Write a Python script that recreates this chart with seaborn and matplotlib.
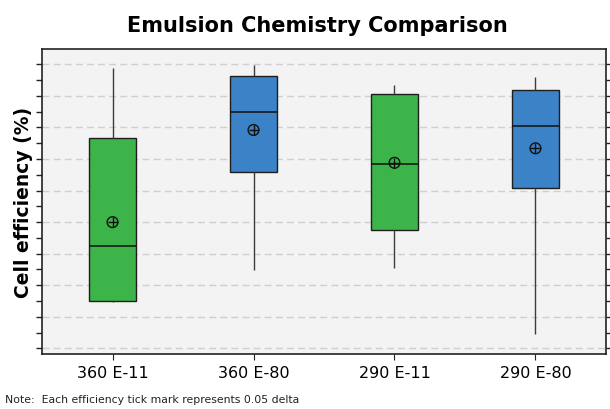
import matplotlib
matplotlib.use("Agg")
import matplotlib.pyplot as plt
from matplotlib.ticker import MultipleLocator, NullFormatter
import pandas as pd
import seaborn as sns

# Five-number summaries per emulsion chemistry (cell efficiency, %)
categories = ["360 E-11", "360 E-80", "290 E-11", "290 E-80"]
whisker_low = [21.146, 21.248, 21.254, 21.044]
q1 = [21.149, 21.560, 21.375, 21.507]
median = [21.323, 21.748, 21.585, 21.706]
q3 = [21.667, 21.862, 21.806, 21.820]
whisker_high = [21.887, 21.898, 21.835, 21.859]
means = [21.400, 21.692, 21.588, 21.634]
box_colors = ["#3cb449", "#3b82c6", "#3cb449", "#3b82c6"]

# Long-form table: with five values per group, the quartiles land exactly
# on the summary values and whis=(0, 100) puts the whiskers on the extremes.
rows = []
for i, cat in enumerate(categories):
    for v in (whisker_low[i], q1[i], median[i], q3[i], whisker_high[i]):
        rows.append({"chemistry": cat, "efficiency": v})
df = pd.DataFrame(rows)
mean_df = pd.DataFrame({"chemistry": categories, "efficiency": means})

sns.set_theme(style="white")
plt.rcParams["font.family"] = ["DejaVu Sans"]

fig = plt.figure(figsize=(6.1, 4.1), dpi=100)
ax = fig.add_axes([0.0689, 0.1341, 0.9245, 0.7439])
ax.set_facecolor("#f3f3f3")

sns.boxplot(
    data=df, x="chemistry", y="efficiency", hue="chemistry",
    palette=box_colors, legend=False, order=categories,
    whis=(0, 100), width=0.335, linewidth=1.0, linecolor="#1e1e1e",
    saturation=1, ax=ax,
    capprops={"linewidth": 0},
    whiskerprops={"color": "#3c3c3c", "linewidth": 1.0},
    medianprops={"color": "#111111", "linewidth": 1.1},
    zorder=3,
)

# Mean markers: circle with a cross
sns.scatterplot(data=mean_df, x="chemistry", y="efficiency", marker="o",
                s=60, facecolor="none", edgecolor="#111111", linewidth=1.0,
                ax=ax, zorder=5, legend=False)
sns.scatterplot(data=mean_df, x="chemistry", y="efficiency", marker="+",
                s=60, color="#111111", linewidth=1.0,
                ax=ax, zorder=5, legend=False)

ax.set_xlim(-0.5, 3.5)
ax.set_ylim(20.982, 21.9487)
ax.yaxis.set_major_locator(MultipleLocator(0.1))
ax.yaxis.set_minor_locator(MultipleLocator(0.05))
ax.yaxis.set_major_formatter(NullFormatter())
ax.grid(axis="y", which="major", linestyle=(0, (5, 3)), color="#cfcfcf",
        linewidth=1.0, zorder=0)
ax.set_axisbelow(True)

ax.tick_params(axis="y", which="both", direction="out", left=True, right=True,
               length=4, width=1.0, color="#222222")
ax.tick_params(axis="x", direction="out", bottom=True, length=4, width=0.8,
               color="#222222", labelsize=11.5, labelcolor="black", pad=4)
for side in ("left", "right", "top", "bottom"):
    ax.spines[side].set_color("#222222")
    ax.spines[side].set_linewidth(1.2)

ax.set_xlabel("")
ax.set_ylabel("Cell efficiency (%)", fontsize=13.5, fontweight="bold",
              color="black")
ax.yaxis.set_label_coords(-0.016, 0.5)
ax.set_title("Emulsion Chemistry Comparison", fontsize=15, fontweight="bold",
             color="black", pad=13, x=0.489)
fig.text(0.008, 0.012, "Note:  Each efficiency tick mark represents 0.05 delta",
         fontsize=7.8, ha="left", va="bottom", color="#222222")

fig.savefig("out.png", dpi=100)
